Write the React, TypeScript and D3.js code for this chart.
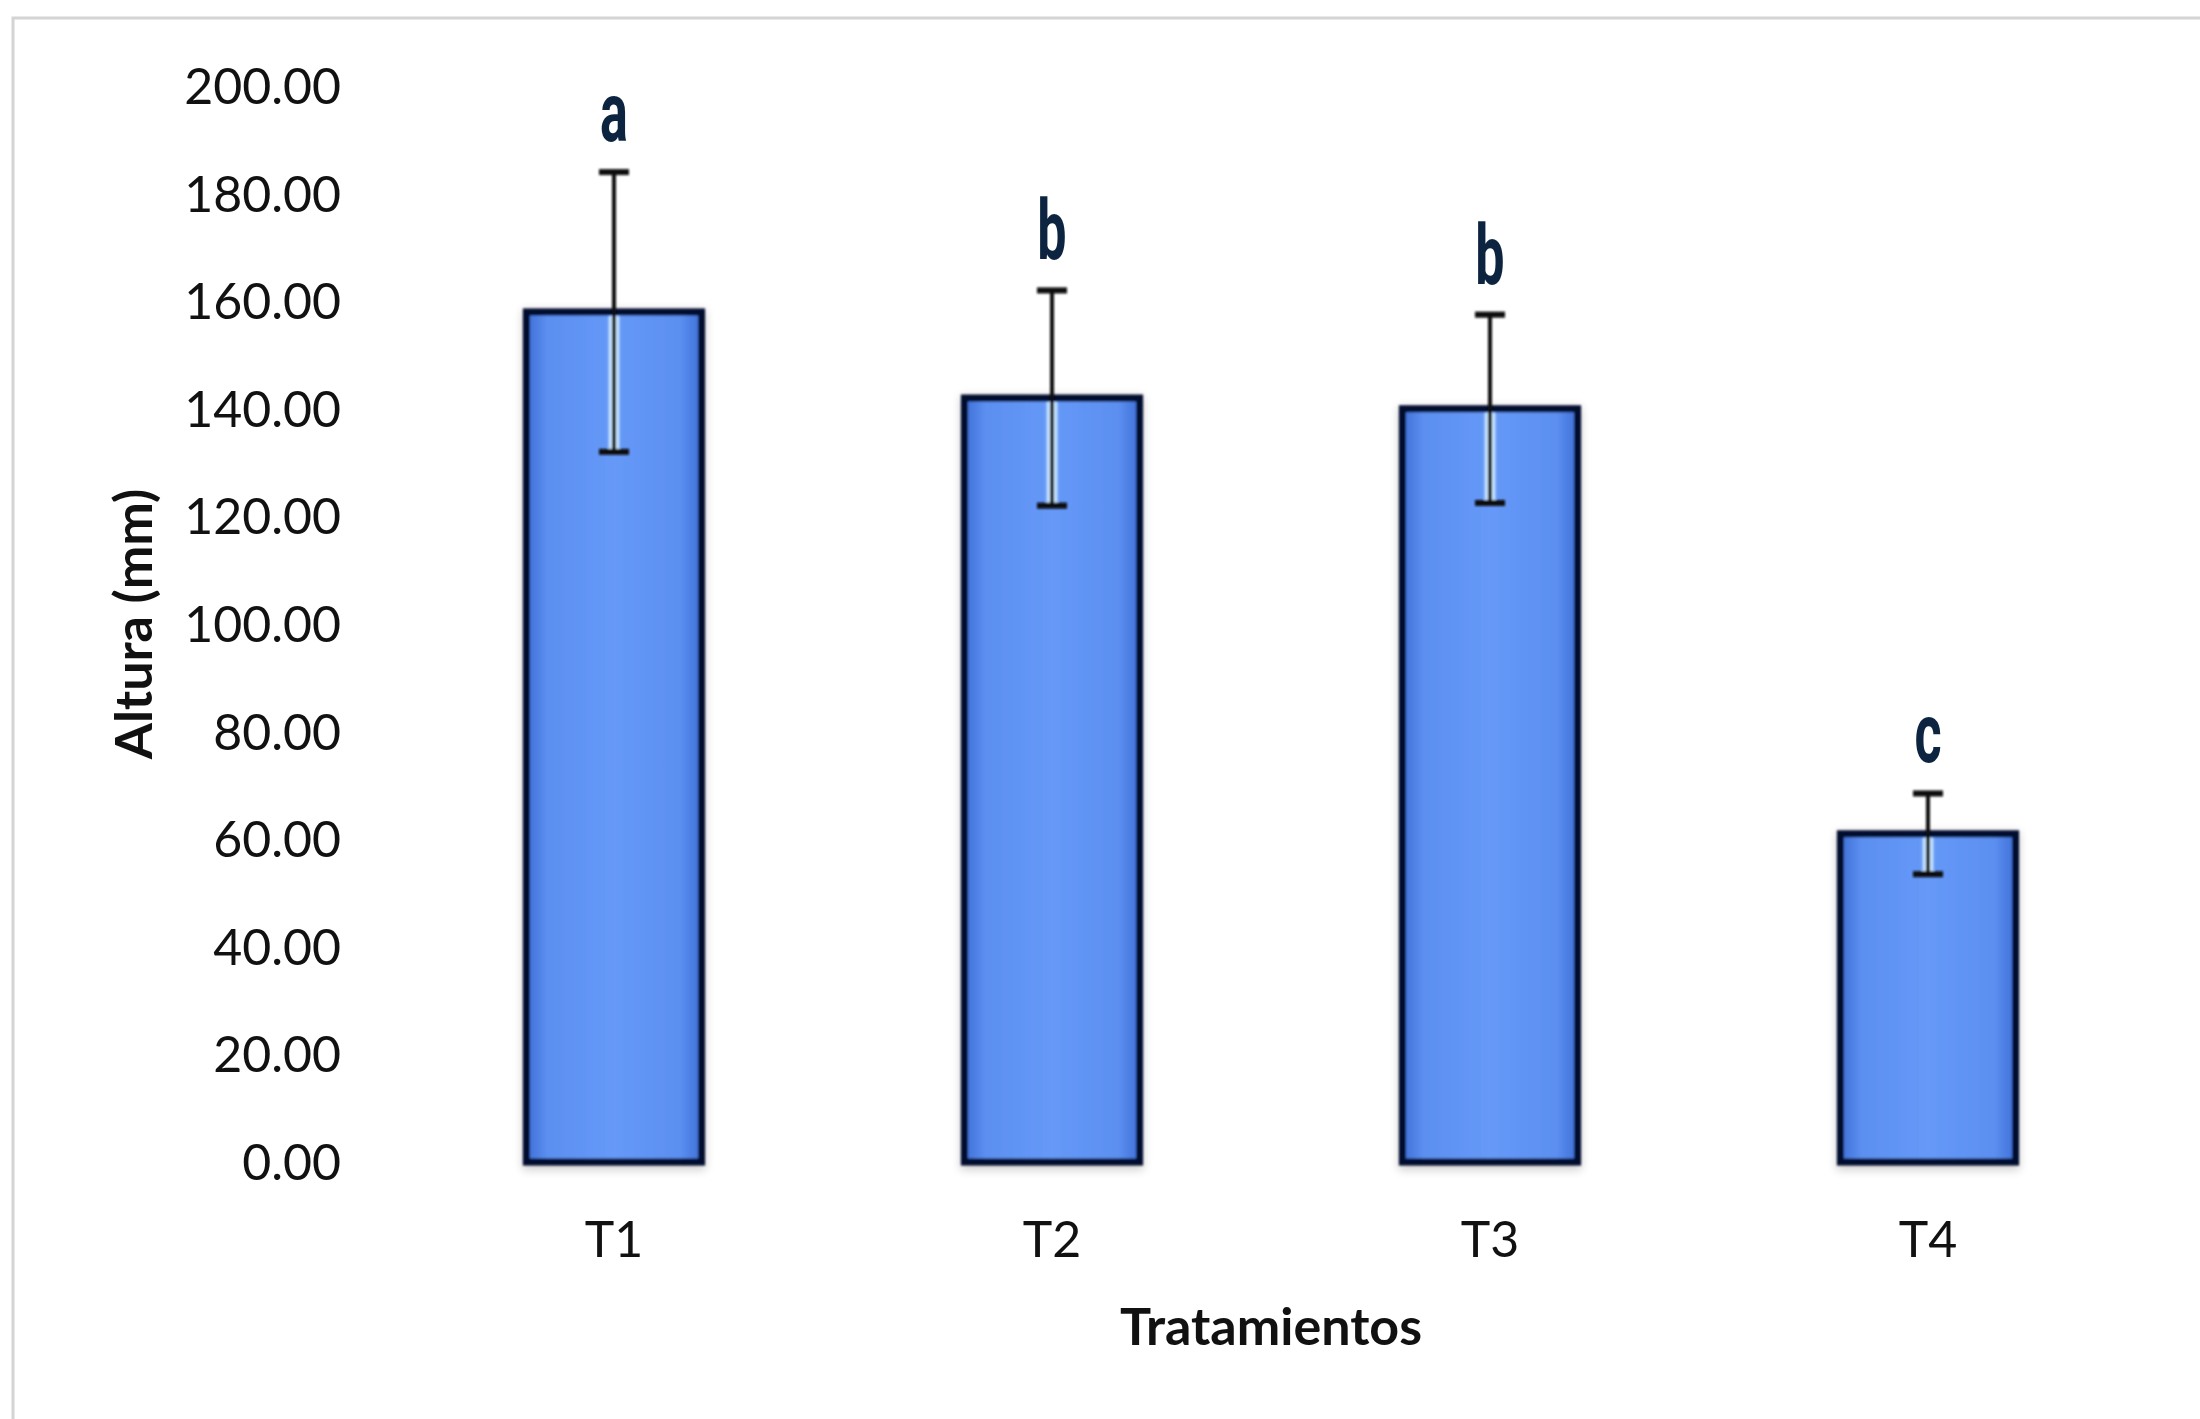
import React from 'react';
import * as d3 from 'd3';

// chart values
const categories = ['T1', 'T2', 'T3', 'T4'];
const means = [158, 142, 140, 61];
const errors = [26, 20, 17.5, 7.5];
const letters = ['a', 'b', 'b', 'c'];
const yTicks = [0, 20, 40, 60, 80, 100, 120, 140, 160, 180, 200];

const W = 2200;
const H = 1419;

const App = () => {
  const x = d3.scaleBand().domain(categories).range([395, 2147]).paddingInner(0.6).paddingOuter(0.3);
  const y = d3.scaleLinear().domain([0, 200]).range([1162, 86]);
  const fmt = d3.format('.2f');
  const font = 'Lato, "Open Sans", sans-serif';

  const rows = categories.map((c, i) => ({ c, mean: means[i], err: errors[i], letter: letters[i] }));

  return (
    <svg width={W} height={H} style={{ position: 'absolute', left: 0, top: 0, background: '#fff' }}>
      <defs>
        <linearGradient id="barFill" x1="0" x2="1" y1="0" y2="0">
          <stop offset="0" stopColor="#3f6fd6" />
          <stop offset="0.12" stopColor="#5b8ff0" />
          <stop offset="0.5" stopColor="#6699f8" />
          <stop offset="0.88" stopColor="#5b8ff0" />
          <stop offset="1" stopColor="#3f6fd6" />
        </linearGradient>
        <filter id="soft" x="-10%" y="-10%" width="120%" height="120%">
          <feGaussianBlur stdDeviation="1.2" />
        </filter>
        <filter id="shadow" x="-20%" y="-20%" width="140%" height="140%">
          <feGaussianBlur stdDeviation="5" />
        </filter>
      </defs>

      {/* chart frame */}
      <path d={`M13,${H} L13,18 L${W},18`} fill="none" stroke="#d4d4d4" strokeWidth={3} />

      {/* y tick labels */}
      {yTicks.map(t => (
        <text key={t} x={341} y={y(t)} dy="0.36em" textAnchor="end" fontFamily={font} fontSize={50} fill="#111">
          {fmt(t)}
        </text>
      ))}

      {/* bars */}
      {rows.map(d => {
        const bx = x(d.c) as number;
        const bw = x.bandwidth();
        return (
          <g key={d.c}>
            <rect x={bx - 4} y={y(d.mean) - 2} width={bw + 8} height={y(0) - y(d.mean) + 10} fill="#000" opacity={0.18} filter="url(#shadow)" />
            <rect x={bx} y={y(d.mean)} width={bw} height={y(0) - y(d.mean)} fill="url(#barFill)" stroke="#00082e" strokeWidth={7} filter="url(#soft)" />
          </g>
        );
      })}

      {/* error bars */}
      {rows.map(d => {
        const cx = (x(d.c) as number) + x.bandwidth() / 2;
        const top = y(d.mean + d.err);
        const bot = y(d.mean - d.err);
        return (
          <g key={d.c} filter="url(#soft)">
            <line x1={cx} x2={cx} y1={y(d.mean) + 4} y2={bot} stroke="#cfeaff" strokeWidth={11} opacity={0.9} />
            <line x1={cx} x2={cx} y1={top} y2={bot} stroke="#0a0a0a" strokeWidth={4} />
            <line x1={cx - 15} x2={cx + 15} y1={top} y2={top} stroke="#0a0a0a" strokeWidth={6} />
            <line x1={cx - 15} x2={cx + 15} y1={bot} y2={bot} stroke="#0a0a0a" strokeWidth={6} />
          </g>
        );
      })}

      {/* significance letters */}
      {rows.map(d => {
        const cx = (x(d.c) as number) + x.bandwidth() / 2;
        const base = y(d.mean + d.err) - 31;
        return (
          <text key={d.c} transform={`translate(${cx},${base}) scale(0.62,1)`} textAnchor="middle"
            fontFamily="Roboto, sans-serif" fontWeight={700} fontSize={84} fill="#0c2440">
            {d.letter}
          </text>
        );
      })}

      {/* x tick labels */}
      {categories.map(c => (
        <text key={c} x={(x(c) as number) + x.bandwidth() / 2} y={1257} textAnchor="middle" fontFamily={font} fontSize={50} fill="#111">
          {c}
        </text>
      ))}

      {/* axis titles */}
      <text x={1271} y={1345} textAnchor="middle" fontFamily={font} fontSize={52} fontWeight={700} fill="#111">
        Tratamientos
      </text>
      <text transform="translate(152,624) rotate(-90)" textAnchor="middle" fontFamily={font} fontSize={52} fontWeight={700} fill="#111">
        Altura (mm)
      </text>
    </svg>
  );
};

export default App;
